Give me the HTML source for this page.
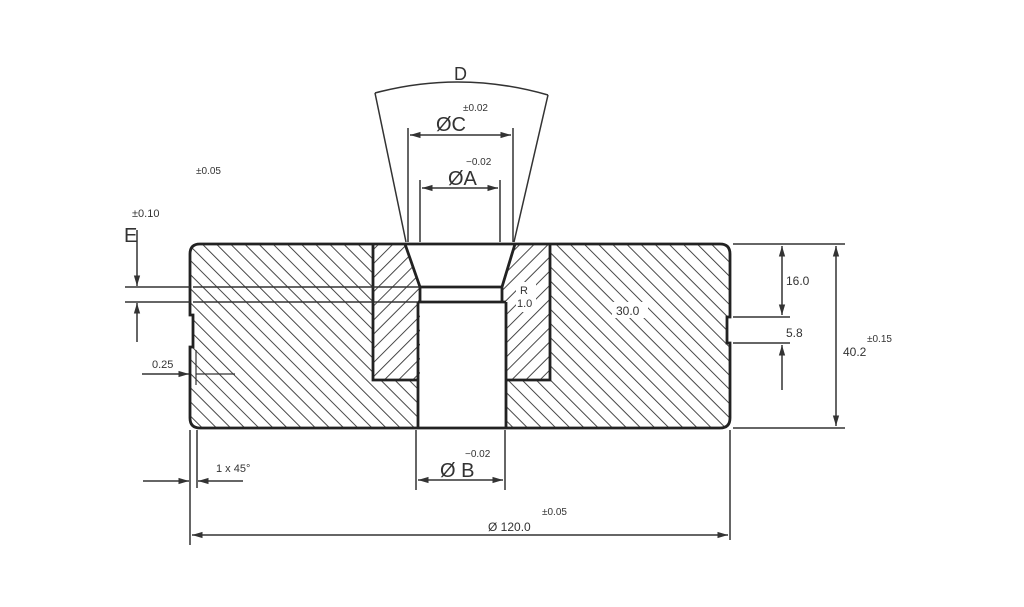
<!DOCTYPE html>
<html><head><meta charset="utf-8"><style>
html,body{margin:0;padding:0;background:#fff;width:1024px;height:607px;overflow:hidden}
svg{display:block}
text{font-family:"Liberation Sans",sans-serif;fill:#333}
</style></head><body>
<svg width="1024" height="607" viewBox="0 0 1024 607" xmlns="http://www.w3.org/2000/svg">
<defs>
<pattern id="hf" width="10" height="10" patternUnits="userSpaceOnUse" patternTransform="rotate(45)">
<line x1="0" y1="0" x2="0" y2="10" stroke="#333" stroke-width="1.8"/></pattern>
<pattern id="hb" width="10" height="10" patternUnits="userSpaceOnUse" patternTransform="rotate(-45)">
<line x1="0" y1="0" x2="0" y2="10" stroke="#333" stroke-width="1.8"/></pattern>
<marker id="ar" viewBox="0 0 10 10" refX="10" refY="5" markerWidth="7" markerHeight="7" orient="auto-start-reverse">
<path d="M0,2 L10,5 L0,8z" fill="#333"/></marker>
</defs>
<g stroke="#333" fill="none">
<path d="M200,244 H720 Q730,244 730,254 V317 H727 V343 H730 V418 Q730,428 720,428 H506 V380 H550 V244 H373 V380 H418 V428 H200 Q190,428 190,418 V347 H193 V315 H190 V254 Q190,244 200,244Z" fill="url(#hb)" stroke="none"/>
<path d="M373,244 H405 L420,287 V380 H373Z" fill="url(#hf)" stroke="none"/>
<path d="M515,244 H550 V380 H506 V302 H502 L502,287Z" fill="url(#hf)" stroke="none"/>
<rect x="612" y="302" width="36" height="16" fill="#fff" stroke="none"/>
<rect x="516" y="282" width="20" height="30" fill="#fff" stroke="none"/>
<path d="M200,244 H720 Q730,244 730,254 V317 H727 V343 H730 V418 Q730,428 720,428 H200 Q190,428 190,418 V347 H193 V315 H190 V254 Q190,244 200,244Z" stroke-width="2.8" stroke="#222"/>
<path d="M373,244 V380 H418 M506,380 H550 V244" stroke-width="2.8" stroke="#222"/>
<path d="M405,244 L420,287 V302 M515,244 L502,287 V302 M420,287 H502 M418,302 H506 M418,302 V428 M506,302 V428" stroke-width="2.8" stroke="#222"/>
<path d="M193,287 H420 M193,302 H418" stroke-width="1.5"/>
<path d="M375,93 Q461,70 548,95" stroke-width="1.5"/>
<path d="M375,93 L406,242 M548,95 L514,242" stroke-width="1.5"/>
<path d="M408,128 V242 M513,128 V242 M420,180 V242 M500,180 V242" stroke-width="1.5"/>
<line x1="410" y1="135" x2="511" y2="135" stroke-width="1.5" marker-start="url(#ar)" marker-end="url(#ar)"/>
<line x1="422" y1="188" x2="498" y2="188" stroke-width="1.5" marker-start="url(#ar)" marker-end="url(#ar)"/>
<path d="M125,287 H190 M125,302 H190" stroke-width="1.5"/>
<line x1="137" y1="230" x2="137" y2="286" stroke-width="1.5" marker-end="url(#ar)"/>
<line x1="137" y1="342" x2="137" y2="303" stroke-width="1.5" marker-end="url(#ar)"/>
<line x1="142" y1="374" x2="189" y2="374" stroke-width="1.5" marker-end="url(#ar)"/>
<path d="M196,374 H235 M196,350 V385" stroke-width="1.2"/>
<path d="M733,244 H845 M733,317 H790 M733,343 H790 M733,428 H845" stroke-width="1.5"/>
<line x1="782" y1="246" x2="782" y2="315" stroke-width="1.5" marker-start="url(#ar)" marker-end="url(#ar)"/>
<line x1="782" y1="390" x2="782" y2="345" stroke-width="1.5" marker-end="url(#ar)"/>
<line x1="836" y1="246" x2="836" y2="426" stroke-width="1.5" marker-start="url(#ar)" marker-end="url(#ar)"/>
<path d="M190,430 V545 M197,430 V488 M416,430 V490 M505,430 V490 M730,430 V540" stroke-width="1.5"/>
<line x1="143" y1="481" x2="189" y2="481" stroke-width="1.5" marker-end="url(#ar)"/>
<line x1="243" y1="481" x2="198" y2="481" stroke-width="1.5" marker-end="url(#ar)"/>
<line x1="418" y1="480" x2="503" y2="480" stroke-width="1.5" marker-start="url(#ar)" marker-end="url(#ar)"/>
<line x1="192" y1="535" x2="728" y2="535" stroke-width="1.5" marker-start="url(#ar)" marker-end="url(#ar)"/>
</g>
<text x="454" y="80" font-size="18">D</text>
<text x="436" y="131" font-size="20">ØC</text>
<text x="463" y="111" font-size="10">±0.02</text>
<text x="448" y="185" font-size="20">ØA</text>
<text x="466" y="165" font-size="10">−0.02</text>
<text x="196" y="174" font-size="10">±0.05</text>
<text x="132" y="217" font-size="11">±0.10</text>
<text x="124" y="242" font-size="20">E</text>
<text x="152" y="368" font-size="11">0.25</text>
<text x="216" y="472" font-size="11">1 x 45°</text>
<text x="440" y="477" font-size="20">Ø B</text>
<text x="465" y="457" font-size="10">−0.02</text>
<text x="488" y="531" font-size="12">Ø 120.0</text>
<text x="542" y="515" font-size="10">±0.05</text>
<text x="520" y="294" font-size="11">R</text>
<text x="517" y="307" font-size="11">1.0</text>
<text x="616" y="315" font-size="12">30.0</text>
<text x="786" y="285" font-size="12">16.0</text>
<text x="786" y="337" font-size="12">5.8</text>
<text x="843" y="356" font-size="12">40.2</text>
<text x="867" y="342" font-size="10">±0.15</text>
</svg>
</body></html>
